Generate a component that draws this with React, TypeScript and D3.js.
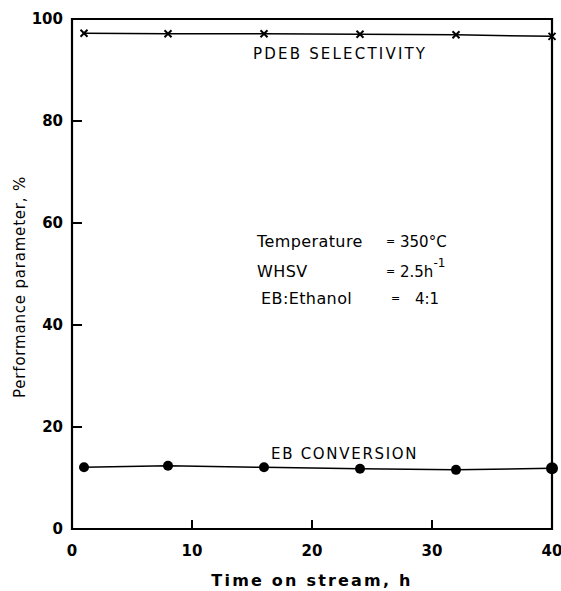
import React from "react";
import * as d3 from "d3";

const timeH = [1, 8, 16, 24, 32, 40];
const selectivity = [97.2, 97.1, 97.1, 97.0, 96.9, 96.6];
const conversion = [12.1, 12.4, 12.1, 11.8, 11.6, 11.9];
const xTicks = [0, 10, 20, 30, 40];
const yTicks = [0, 20, 40, 60, 80, 100];

const W = 561;
const H = 591;
const M = { left: 72, right: 8, top: 19, bottom: 62 };
const FONT = "'DejaVu Sans', sans-serif";

export default function App() {
  const x = d3.scaleLinear().domain([0, 40]).range([M.left, W - M.right - 1]);
  const y = d3.scaleLinear().domain([0, 100]).range([H - M.bottom, M.top]);
  const line = d3
    .line<number>()
    .x((_, i) => x(timeH[i]))
    .y((d) => y(d));
  const x0 = x(0), x1 = x(40), y0 = y(0), y1 = y(100);
  return (
    <svg width={W} height={H} style={{ position: "absolute", left: 0, top: 0 }} fontFamily={FONT}>
      <rect width={W} height={H} fill="#fff" />
      {/* frame */}
      <path d={`M${x0},${y1}L${x0},${y0}L${x1},${y0}L${x1},${y1}Z`} fill="none" stroke="#000" strokeWidth={2.2} />
      {/* y ticks */}
      {yTicks.map((t) => (
        <g key={"y" + t}>
          {t > 0 && t < 100 && <line x1={x0} x2={x0 + 10} y1={y(t)} y2={y(t)} stroke="#000" strokeWidth={2} />}
          <text x={x0 - 9} y={y(t)} dy="0.35em" textAnchor="end" fontSize={15} fontWeight="bold">
            {t}
          </text>
        </g>
      ))}
      {/* x ticks */}
      {xTicks.map((t) => (
        <g key={"x" + t}>
          {t > 0 && t < 40 && <line x1={x(t)} x2={x(t)} y1={y0} y2={y0 - 9} stroke="#000" strokeWidth={2} />}
          <text x={x(t)} y={y0 + 27} textAnchor="middle" fontSize={15} fontWeight="bold">
            {t}
          </text>
        </g>
      ))}
      {/* series lines */}
      <path d={line(selectivity) || ""} fill="none" stroke="#000" strokeWidth={1.5} />
      <path d={line(conversion) || ""} fill="none" stroke="#000" strokeWidth={1.5} />
      {selectivity.map((v, i) => (
        <g key={"s" + i} transform={`translate(${x(timeH[i])},${y(v)})`} stroke="#000" strokeWidth={2}>
          <line x1={-3.5} y1={-3.5} x2={3.5} y2={3.5} />
          <line x1={-3.5} y1={3.5} x2={3.5} y2={-3.5} />
        </g>
      ))}
      {conversion.map((v, i) => (
        <circle key={"c" + i} cx={x(timeH[i])} cy={y(v)} r={i === 5 ? 6 : 5} fill="#000" />
      ))}
      {/* labels */}
      <text x={253} y={59} fontSize={15} letterSpacing={2.2}>PDEB SELECTIVITY</text>
      <text x={271} y={459} fontSize={15} letterSpacing={1.7}>EB CONVERSION</text>
      <g fontSize={16}>
        <text x={257} y={247} letterSpacing={0.4}>Temperature</text>
        <text x={386} y={245} fontSize={11}>=</text>
        <text x={400} y={247} fontSize={15}>350°C</text>
        <text x={257} y={277} letterSpacing={0.4}>WHSV</text>
        <text x={386} y={275} fontSize={11}>=</text>
        <text x={400} y={277} fontSize={15}>
          2.5h<tspan dy={-10} fontSize={12}>-1</tspan>
        </text>
        <text x={261} y={304} letterSpacing={0.4}>EB:Ethanol</text>
        <text x={391} y={302} fontSize={11}>=</text>
        <text x={415} y={304} fontSize={15}>4:1</text>
      </g>
      <text x={(x0 + x1) / 2} y={586} textAnchor="middle" fontSize={16} fontWeight="bold" letterSpacing={2.2}>
        Time on stream, h
      </text>
      <text
        transform={`translate(25,${287}) rotate(-90)`}
        textAnchor="middle"
        fontSize={15}
        letterSpacing={0.8}
      >
        Performance parameter, %
      </text>
    </svg>
  );
}
